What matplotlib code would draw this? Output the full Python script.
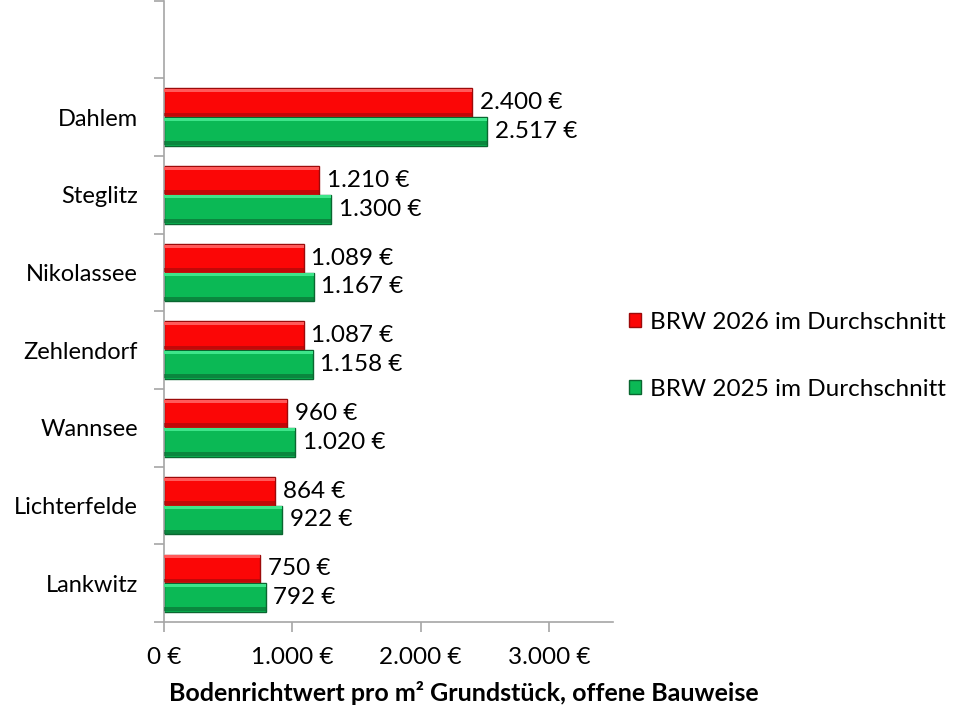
import numpy as np
import matplotlib.pyplot as plt
from matplotlib.ticker import FixedLocator, FuncFormatter

# Daten
stadtteile = ['Dahlem', 'Steglitz', 'Nikolassee', 'Zehlendorf', 'Wannsee', 'Lichterfelde', 'Lankwitz']
brw_2026 = [2400, 1210, 1089, 1087, 960, 864, 750]
brw_2025 = [2517, 1300, 1167, 1158, 1020, 922, 792]
x_ticks = [0, 1000, 2000, 3000]

plt.rcParams['font.family'] = ['Lato', 'DejaVu Sans']
fs = 17.5


def euro(v):
    return f'{int(v):,} €'.replace(',', '.')


fig = plt.figure(figsize=(9.6, 7.2), dpi=100)
ax = fig.add_axes([0.171, 0.136, 0.4675, 0.863])

n = len(stadtteile)
y = np.arange(n)[::-1]
h = 0.37

rot, rot_hell, rot_dunkel = '#fb0606', '#ff5a5a', '#9c0a0a'
gruen, gruen_hell, gruen_dunkel = '#0bb955', '#3ee58a', '#0a6630'

# Hauptbalken
ax.barh(y + h/2, brw_2026, height=h, color=rot, edgecolor=rot_dunkel, linewidth=1.0,
        label='BRW 2026 im Durchschnitt', zorder=2)
ax.barh(y - h/2, brw_2025, height=h, color=gruen, edgecolor=gruen_dunkel, linewidth=1.0,
        label='BRW 2025 im Durchschnitt', zorder=2)

# 3D-Effekt: helle Oberkante, dunkle Unterkante
s = 0.05
ax.barh(y + h - s, brw_2026, height=s*0.8, align='edge', color=rot_hell, linewidth=0, zorder=3)
ax.barh(y + 0.01, brw_2026, height=s, align='edge', color=rot_dunkel, alpha=0.6, linewidth=0, zorder=3)
ax.barh(y - s*0.9, brw_2025, height=s*0.8, align='edge', color=gruen_hell, linewidth=0, zorder=3)
ax.barh(y - h + 0.01, brw_2025, height=s, align='edge', color=gruen_dunkel, alpha=0.6, linewidth=0, zorder=3)

# Werte
for yi, v in zip(y, brw_2026):
    ax.text(v + 60, yi + h/2, euro(v), va='center', ha='left', fontsize=fs)
for yi, v in zip(y, brw_2025):
    ax.text(v + 60, yi - h/2, euro(v), va='center', ha='left', fontsize=fs)

ax.set_xlim(0, 3500)
ax.set_ylim(-0.5, n + 0.5)

ax.set_xticks(x_ticks)
ax.xaxis.set_major_formatter(FuncFormatter(lambda v, p: euro(v)))
ax.set_yticks(y)
ax.set_yticklabels(stadtteile)
ax.yaxis.set_minor_locator(FixedLocator(np.arange(-0.5, n + 1, 1)))

ax.tick_params(axis='y', which='major', length=0, pad=19, labelsize=17)
ax.tick_params(axis='y', which='minor', length=7, width=1.2, color='#a6a6a6', direction='out')
ax.tick_params(axis='x', which='major', length=7, width=1.2, color='#a6a6a6', pad=11, labelsize=fs)

for sp in ['top', 'right']:
    ax.spines[sp].set_visible(False)
for sp in ['left', 'bottom']:
    ax.spines[sp].set_color('#a6a6a6')
    ax.spines[sp].set_linewidth(1.2)

fig.text(0.483, 0.037, 'Bodenrichtwert pro m² Grundstück, offene Bauweise', fontsize=18,
         fontweight='bold', ha='center', va='center')

fig.legend(loc='center left', bbox_to_anchor=(0.632, 0.506), frameon=False,
           fontsize=fs, handlelength=0.5, handleheight=0.5, handletextpad=0.4,
           labelspacing=1.9)

fig.savefig('out.png', dpi=100)
